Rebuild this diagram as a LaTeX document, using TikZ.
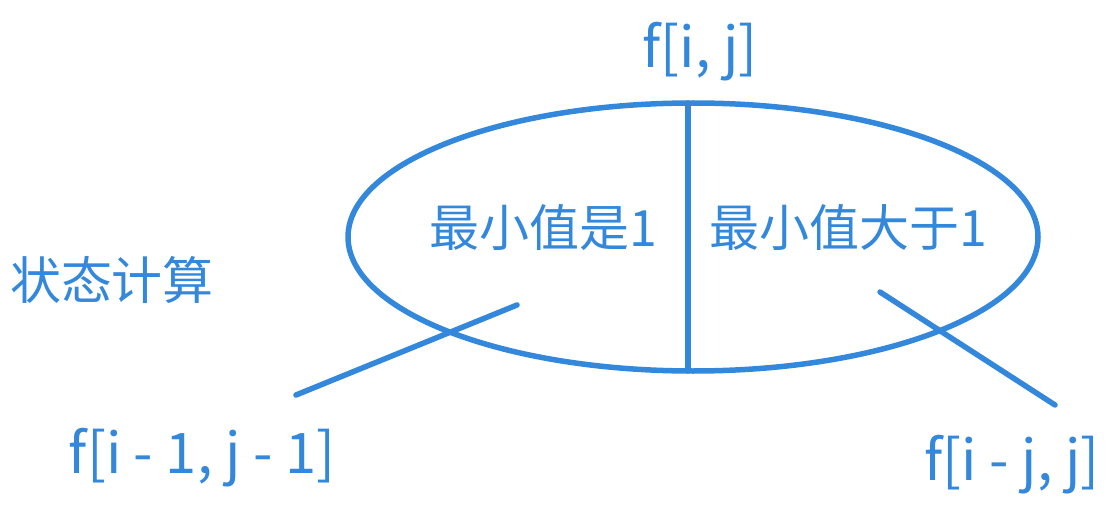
\documentclass[tikz,border=0pt]{standalone}
\usepackage{fontspec}
\setmainfont{Noto Sans CJK SC}
\usepackage{tikz}
\definecolor{penblue}{RGB}{52,136,220}
\tikzset{
	txt/.style={text=penblue,font=\fontsize{50}{60}\selectfont,inner sep=0pt},
	ltxt/.style={txt,font=\fontsize{56}{66}\selectfont},
	pen/.style={draw=penblue,line width=5.5pt,line cap=round}
}

\begin{document}
\begin{tikzpicture}[x=1pt,y=-1pt]
						\useasboundingbox (0,0) rectangle (1112,516);
						\node [ltxt] (fij) at (700,52) {f[i, j]};
						\node [txt] (one) at (543,228) {最小值是1};
						\node [txt] (more) at (848,228) {最小值大于1};
						\node [txt,font=\fontsize{51}{60}\selectfont] (calc) at (112,280) {状态计算};
						\node [ltxt] (fprev) at (202,458) {f[i - 1, j - 1]};
						\node [ltxt] (fsame) at (1012,465) {f[i - j, j]};

						\coordinate (ctr) at (693,237);
						\coordinate (top) at (688,103);
						\coordinate (bot) at (688,371);
						\coordinate (la) at (517,305);
						\coordinate (lb) at (296,395);
						\coordinate (ra) at (880,292);
						\coordinate (rb) at (1055,405);

						\draw [pen] (ctr) ellipse [x radius=345pt,y radius=134pt];
						\draw [pen] (top) -- (bot);
						\draw [pen] (la) -- (lb);
						\draw [pen] (ra) -- (rb);
					\end{tikzpicture}
\end{document}
